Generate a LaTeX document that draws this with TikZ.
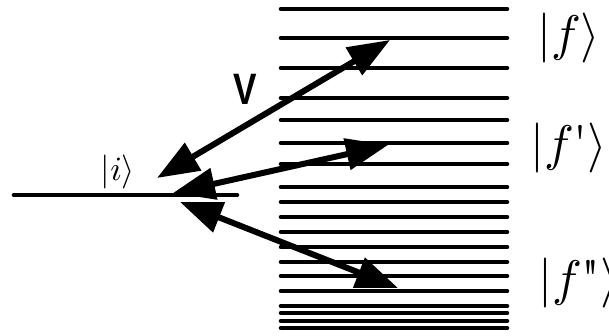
\documentclass[tikz,border=0pt]{standalone}
\usepackage{fontspec}
\newfontfamily\vfont{Liberation Sans}
\usetikzlibrary{arrows.meta}
\begin{document}
\begin{tikzpicture}[x=1pt,y=-1pt,
  level/.style={line width=4.6pt,line cap=round},
  trans/.style={line width=6pt,{Triangle[length=42pt,width=31pt]}-{Triangle[length=42pt,width=31pt]}},
  ket/.style={inner sep=0pt}]
\useasboundingbox (0,0) rectangle (609,336);
% final-state levels
\foreach \y in {9,38,68,98,120,143,164,187,202,217,232,247,262,276,291,306,313,321,328}
  \draw[level] (281,\y) -- (507,\y);
% initial level
\coordinate (i0) at (14,195);
\coordinate (i1) at (237,195);
\draw[level] (i0) -- (i1);
% arrow end points
\coordinate (a1) at (157,178);
\coordinate (b1) at (390,40);
\coordinate (a2) at (173,193);
\coordinate (b2) at (388,145);
\coordinate (a3) at (180,202);
\coordinate (b3) at (398,288);
\draw[trans] (a1) -- (b1);
\draw[trans] (a2) -- (b2);
\draw[trans] (a3) -- (b3);
% labels
\node[ket] (ki) at (118,172) {\scalebox{3.4}{$|i\rangle$}};
\node[inner sep=0pt,font=\vfont\bfseries\fontsize{44}{50}\selectfont] (V) at (245,89) {\scalebox{0.8}[1]{V}};
\node[ket,anchor=west] (kf) at (537,38) {\scalebox{5}{$|f\rangle$}};
\node[ket,anchor=west] (kf1) at (530,148) {\scalebox{5}{$|f\mbox{\textquotesingle}\rangle$}};
\node[ket,anchor=west] (kf2) at (538,283) {\scalebox{5}{$|f\mbox{\textquotedbl}\rangle$}};
\end{tikzpicture}
\end{document}
